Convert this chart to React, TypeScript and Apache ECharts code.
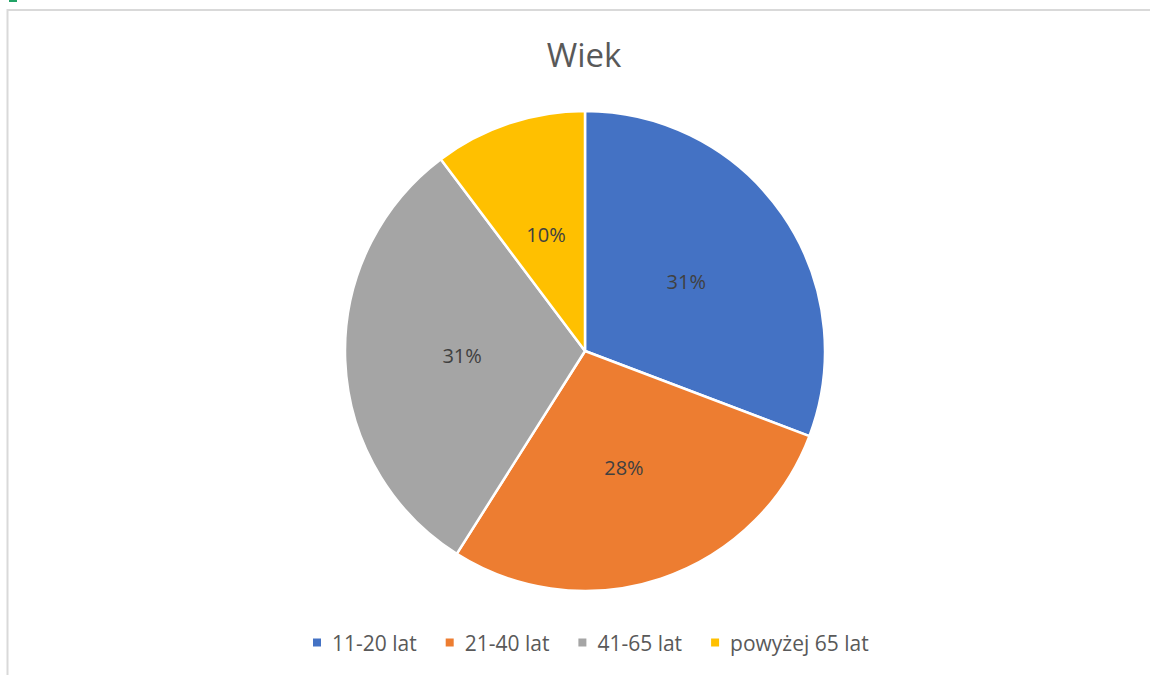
import React, { useEffect, useRef } from "react";
import * as echarts from "echarts";

const title = "Wiek";
const categories = ["11-20 lat", "21-40 lat", "41-65 lat", "powyżej 65 lat"];
const values = [12, 11, 12, 4];
const colors = ["#4472C4", "#ED7D31", "#A5A5A5", "#FFC000"];

export default function App() {
  const ref = useRef<HTMLDivElement>(null);
  useEffect(() => {
    if (!ref.current) return;
    const chart = echarts.init(ref.current, undefined, { renderer: "svg" });
    const font = "'Open Sans', 'Noto Sans', sans-serif";
    chart.setOption({
      animation: false,
      backgroundColor: "#ffffff",
      title: {
        text: title,
        left: 579,
        top: 33,
        textAlign: "center",
        textStyle: { fontFamily: font, fontSize: 33, fontWeight: "normal", color: "#595959" },
      },
      legend: {
        bottom: 17,
        left: 306,
        itemWidth: 10,
        itemHeight: 10,
        itemGap: 27,
        icon: "rect",
        textStyle: { fontFamily: font, fontSize: 21, color: "#595959", padding: [0, 0, 0, 5] },
        data: categories,
      },
      graphic: [
        {
          type: "rect",
          shape: { x: 7.5, y: 10, width: 1200, height: 700 },
          style: { fill: "none", stroke: "#d9d9d9", lineWidth: 2 },
          silent: true,
        },
        {
          type: "rect",
          shape: { x: 9, y: 0, width: 8, height: 2 },
          style: { fill: "#21a366" },
          silent: true,
        },
      ],
      series: [
        {
          type: "pie",
          center: [585, 351],
          radius: [0, 240],
          startAngle: 90,
          clockwise: true,
          data: categories.map((c, i) => ({ name: c, value: values[i], itemStyle: { color: colors[i] } })),
          itemStyle: { borderColor: "#ffffff", borderWidth: 2.5 },
          label: {
            show: true,
            position: "inside",
            formatter: (p: any) => Math.round(p.percent) + "%",
            fontFamily: font,
            fontSize: 20,
            color: "#404040",
          },
          labelLine: { show: false },
          emphasis: { disabled: true },
        },
      ],
    });
    return () => chart.dispose();
  }, []);
  return (
    <div
      ref={ref}
      style={{ position: "fixed", left: 0, top: 0, width: 1150, height: 675 }}
    />
  );
}
